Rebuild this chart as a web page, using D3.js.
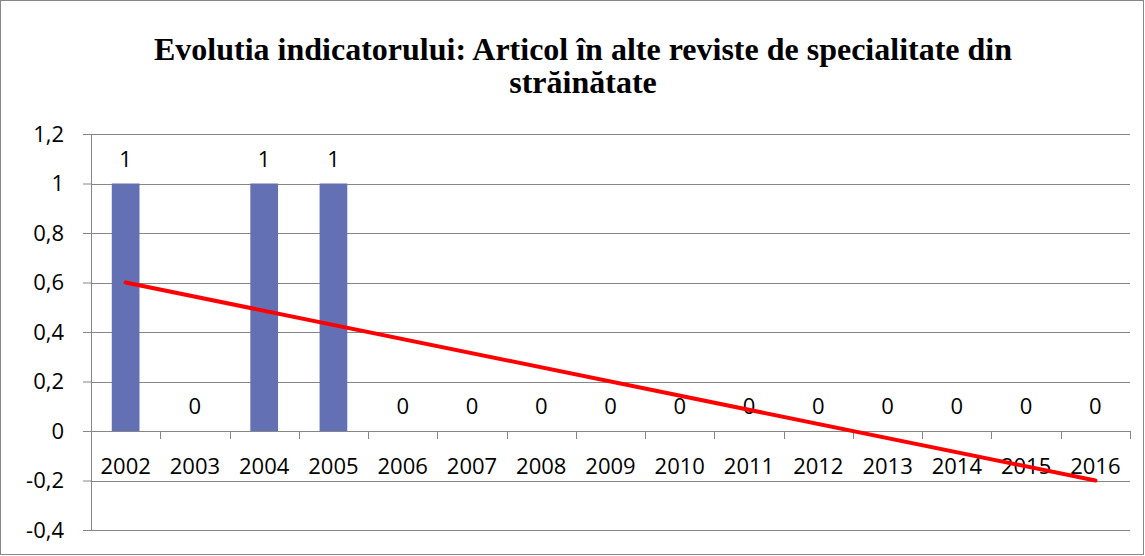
<!DOCTYPE html>
<html lang="ro">
<head>
<meta charset="UTF-8">
<script src="https://d3js.org/d3.v7.min.js"></script>
<style>
  body { margin: 0; background: #fff; }
  svg text { fill: #000; }
</style>
</head>
<body>
<div id="chart"></div>
<script>
// data
const years = ["2002", "2003", "2004", "2005", "2006", "2007", "2008", "2009",
               "2010", "2011", "2012", "2013", "2014", "2015", "2016"];
const values = [1, 0, 1, 1, 0, 0, 0, 0, 0, 0, 0, 0, 0, 0, 0];
const yTicks = [-0.4, -0.2, 0, 0.2, 0.4, 0.6, 0.8, 1, 1.2];
const titleLines = ["Evolutia indicatorului: Articol în alte reviste de specialitate din",
                    "străinătate"];

const W = 1145, H = 556;
const plot = { left: 91, right: 1130, top: 134, bottom: 530 };
const labelFont = "'Open Sans', sans-serif";
const labelSize = 22;

const svg = d3.select("#chart").append("svg")
    .attr("width", W)
    .attr("height", H);

// outer border of the chart area
svg.append("rect")
    .attr("x", 0.5).attr("y", 0.5)
    .attr("width", W - 2).attr("height", H - 2)
    .attr("fill", "#fff")
    .attr("stroke", "#868686");

// title
svg.append("text")
    .attr("text-anchor", "middle")
    .attr("font-family", "'Liberation Serif', 'Times New Roman', serif")
    .attr("font-weight", "bold")
    .attr("font-size", 32)
    .selectAll("tspan")
    .data(titleLines)
    .join("tspan")
    .attr("x", 583)
    .attr("y", (d, i) => 60 + i * 33)
    .text(d => d);

const x = d3.scaleBand()
    .domain(years)
    .range([plot.left, plot.right])
    .paddingInner(0.6)
    .paddingOuter(0.3);

const y = d3.scaleLinear()
    .domain([-0.4, 1.2])
    .range([plot.bottom, plot.top]);

const fmt = v => d3.format(".1~f")(v).replace(".", ",").replace("−", "-");

// horizontal gridlines + left axis
const yAxis = svg.append("g")
    .attr("transform", `translate(${plot.left},0)`)
    .call(d3.axisLeft(y).tickValues(yTicks).tickSize(8).tickPadding(19).tickFormat(fmt));
yAxis.select(".domain").attr("stroke", "#868686");
yAxis.selectAll(".tick line").attr("stroke", "#868686");
yAxis.selectAll(".tick text")
    .attr("font-family", labelFont)
    .attr("font-size", labelSize)
    .attr("fill", "#000");

svg.append("g")
    .selectAll("line")
    .data(yTicks.filter(d => d !== 0))
    .join("line")
    .attr("x1", plot.left).attr("x2", plot.right)
    .attr("y1", d => Math.round(y(d)) + 0.5)
    .attr("y2", d => Math.round(y(d)) + 0.5)
    .attr("stroke", "#868686");

// bars
svg.append("g")
    .selectAll("rect")
    .data(values)
    .join("rect")
    .attr("x", (d, i) => x(years[i]))
    .attr("y", d => y(Math.max(d, 0)))
    .attr("width", x.bandwidth())
    .attr("height", d => Math.abs(y(d) - y(0)))
    .attr("fill", "#6470b4");

// category axis on the zero line, ticks at category boundaries
const step = x.step();
const bounds = d3.range(years.length + 1).map(i => plot.left + i * step);
const xg = svg.append("g");
xg.append("line")
    .attr("x1", plot.left).attr("x2", plot.right)
    .attr("y1", Math.round(y(0)) + 0.5).attr("y2", Math.round(y(0)) + 0.5)
    .attr("stroke", "#868686");
xg.selectAll("line.tk")
    .data(bounds)
    .join("line")
    .attr("class", "tk")
    .attr("x1", d => Math.round(d) + 0.5).attr("x2", d => Math.round(d) + 0.5)
    .attr("y1", y(0)).attr("y2", y(0) + 8)
    .attr("stroke", "#868686");
xg.selectAll("text")
    .data(years)
    .join("text")
    .attr("x", d => x(d) + x.bandwidth() / 2)
    .attr("y", 474)
    .attr("text-anchor", "middle")
    .attr("font-family", labelFont)
    .attr("font-size", labelSize)
    .text(d => d);

// data labels
svg.append("g")
    .selectAll("text")
    .data(values)
    .join("text")
    .attr("x", (d, i) => x(years[i]) + x.bandwidth() / 2)
    .attr("y", d => y(d) - 17)
    .attr("text-anchor", "middle")
    .attr("font-family", labelFont)
    .attr("font-size", labelSize)
    .text(d => d);

// linear trend line (least squares over the series)
const xs = values.map((d, i) => i + 1);
const mx = d3.mean(xs), my = d3.mean(values);
const slope = d3.sum(xs, (v, i) => (v - mx) * (values[i] - my)) / d3.sum(xs, v => (v - mx) ** 2);
const icpt = my - slope * mx;
const trend = [xs[0], xs[xs.length - 1]].map(k => [years[k - 1], icpt + slope * k]);

svg.append("path")
    .datum(trend)
    .attr("fill", "none")
    .attr("stroke", "#ff0000")
    .attr("stroke-width", 4)
    .attr("stroke-linecap", "round")
    .attr("d", d3.line()
        .x(d => x(d[0]) + x.bandwidth() / 2)
        .y(d => y(d[1])));
</script>
</body>
</html>
